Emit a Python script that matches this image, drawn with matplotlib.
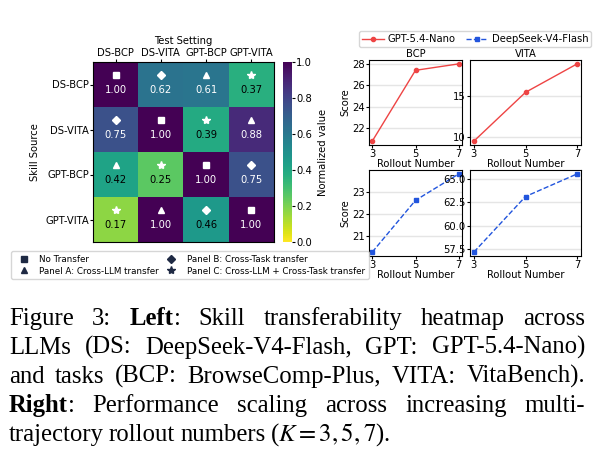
import numpy as np
import matplotlib.pyplot as plt
from matplotlib.lines import Line2D

labels = ["DS-BCP", "DS-VITA", "GPT-BCP", "GPT-VITA"]
heat = np.array([
    [1.00, 0.62, 0.61, 0.37],
    [0.75, 1.00, 0.39, 0.88],
    [0.42, 0.25, 1.00, 0.75],
    [0.17, 1.00, 0.46, 1.00],
])
rollouts = [3, 5, 7]
gpt_bcp = [20.8, 27.4, 28.0]
gpt_vita = [9.5, 15.5, 19.0]
ds_bcp = [20.25, 22.6, 23.8]
ds_vita = [57.2, 63.1, 65.5]


def marker_for(i, j):
    src, dst = labels[i].split("-"), labels[j].split("-")
    if i == j:
        return "s"
    if src[1] == dst[1]:
        return "^"
    if src[0] == dst[0]:
        return "D"
    return "*"


plt.rcParams["mathtext.fontset"] = "stix"
fig = plt.figure(figsize=(5.96, 4.76), dpi=100)
W, H = 596, 476
FS = 7.2


def ax_px(x0, y0, x1, y1):
    return fig.add_axes([x0 / W, 1 - y1 / H, (x1 - x0) / W, (y1 - y0) / H])


# heatmap
ax = ax_px(93, 62, 274, 242)
im = ax.imshow(heat, cmap="viridis_r", vmin=0, vmax=1, aspect="auto")
for i in range(4):
    for j in range(4):
        v = heat[i, j]
        col = "white" if v > 0.5 else "black"
        ax.text(j, i + 0.12, f"{v:.2f}", ha="center", va="center", fontsize=FS, color=col)
        m = marker_for(i, j)
        ax.plot(j, i - 0.22, marker=m, color="white", markersize=6 if m == "*" else 4, linestyle="none")
ax.set_xticks(range(4))
ax.set_xticklabels(labels, fontsize=FS)
ax.set_yticks(range(4))
ax.set_yticklabels(labels, fontsize=FS)
ax.tick_params(length=2, pad=1)
ax.xaxis.tick_top()
ax.xaxis.set_label_position("top")
ax.set_xlabel("Test Setting", fontsize=FS, labelpad=3)
ax.set_ylabel("Skill Source", fontsize=FS)

cax = ax_px(283, 62, 292, 242)
cb = fig.colorbar(im, cax=cax)
cb.set_label("Normalized value", fontsize=FS)
cb.ax.tick_params(labelsize=FS, length=2, pad=1)
cb.outline.set_visible(False)

handles = [
    Line2D([], [], marker="s", color="#1f2a44", linestyle="none", markersize=4, label="No Transfer"),
    Line2D([], [], marker="^", color="#1f2a44", linestyle="none", markersize=4, label="Panel A: Cross-LLM transfer"),
    Line2D([], [], marker="D", color="#1f2a44", linestyle="none", markersize=4, label="Panel B: Cross-Task transfer"),
    Line2D([], [], marker="*", color="#1f2a44", linestyle="none", markersize=6, label="Panel C: Cross-LLM + Cross-Task transfer"),
]
fig.legend(handles=handles, ncol=2, fontsize=6.3, loc="upper left", bbox_to_anchor=(7 / W, 1 - 247 / H),
           frameon=True, handletextpad=0.8, columnspacing=0.4, borderpad=0.4, labelspacing=0.3)

# line plots
red, blue = "#ee4444", "#2255dd"
panels = [
    ((369, 60, 462, 145), gpt_bcp, red, "o", "-", "BCP", True),
    ((470, 60, 581, 145), gpt_vita, red, "o", "-", "VITA", False),
    ((369, 170, 462, 256), ds_bcp, blue, "s", "--", None, True),
    ((470, 170, 581, 256), ds_vita, blue, "s", "--", None, False),
]
line_axes = []
for box, ys, c, mk, ls, title, left in panels:
    a = ax_px(*box)
    a.plot(rollouts, ys, color=c, marker=mk, linestyle=ls, linewidth=1, markersize=3)
    a.set_xticks(rollouts)
    a.set_xlim(2.85, 7.15)
    a.grid(axis="y", color="#e5e5e5", linewidth=1)
    a.set_axisbelow(True)
    a.tick_params(labelsize=FS, length=2, pad=1)
    a.set_xlabel("Rollout Number", fontsize=FS, labelpad=0)
    if left:
        a.set_ylabel("Score", fontsize=FS, labelpad=1)
    if title:
        a.set_title(title, fontsize=FS, pad=2)
    line_axes.append(a)

line_axes[0].set_yticks([22, 24, 26, 28])
line_axes[1].set_yticks([10, 15])
line_axes[2].set_yticks([21, 22, 23])
line_axes[3].set_yticks([57.5, 60.0, 62.5, 65.0])
line_axes[3].yaxis.set_major_formatter(plt.FormatStrFormatter("%.1f"))

lh = [Line2D([], [], color=red, marker="o", markersize=3, linewidth=1, label="GPT-5.4-Nano"),
      Line2D([], [], color=blue, marker="s", markersize=3, linewidth=1, linestyle="--", label="DeepSeek-V4-Flash")]
fig.legend(handles=lh, ncol=2, fontsize=FS, loc="center", bbox_to_anchor=(475 / W, 1 - 39 / H),
           frameon=True, handlelength=2.2, columnspacing=1.0, borderpad=0.3, handletextpad=0.4)

# caption, justified lines ("+" marks a token glued to the previous one)
serif = "Liberation Serif"
CFS = 17.8
lines = [
    ([("Figure", "normal"), ("3:", "normal"), ("Left", "bold"), (":", "normal+"), ("Skill", "normal"),
      ("transferability", "normal"), ("heatmap", "normal"), ("across", "normal")], True),
    ([(w, "normal") for w in "LLMs (DS: DeepSeek-V4-Flash, GPT: GPT-5.4-Nano)".split()], True),
    ([(w, "normal") for w in "and tasks (BCP: BrowseComp-Plus, VITA: VitaBench).".split()], True),
    ([("Right", "bold"), (":", "normal+"), ("Performance", "normal"), ("scaling", "normal"), ("across", "normal"),
      ("increasing", "normal"), ("multi-", "normal")], True),
    ([("trajectory", "normal"), ("rollout", "normal"), ("numbers", "normal"),
      ("($K = 3, 5, 7$).", "normal")], False),
]
renderer = fig.canvas.get_renderer()
x_left, x_right = 9, 585
y = 325
for words, justify in lines:
    texts = []
    for w, wgt in words:
        t = fig.text(0, 0, w, fontsize=CFS, family=serif, weight=wgt.rstrip("+"), va="baseline")
        texts.append((t, wgt.endswith("+"), t.get_window_extent(renderer).width))
    n_gaps = sum(1 for t, glue, _ in texts[1:] if not glue)
    total = sum(wd for _, _, wd in texts)
    gap = (x_right - x_left - total) / max(n_gaps, 1) if justify else 5
    x = x_left
    for k, (t, glue, wd) in enumerate(texts):
        if k > 0 and not glue:
            x += gap
        t.set_position((x / W, 1 - y / H))
        x += wd
    y += 29

fig.savefig("out.png", dpi=100)
